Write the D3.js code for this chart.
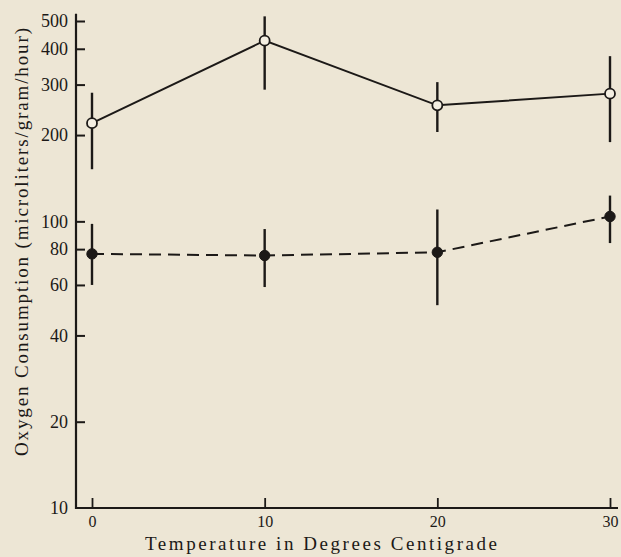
<!DOCTYPE html>
<html>
<head>
<meta charset="utf-8">
<script src="https://cdn.jsdelivr.net/npm/d3@7"></script>
<style>
  html, body { margin: 0; padding: 0; background: #ede6d5; }
  svg { display: block; }
  text { font-family: "Liberation Serif", "DejaVu Serif", serif; fill: #1c1917; }
</style>
</head>
<body>
<svg id="chart" width="621" height="557"></svg>
<script>
// ---- data ----
const temperatures = [0, 10, 20, 30];
const openMean  = [220, 427, 254, 279];
const openUpper = [281, 519, 306, 377];
const openLower = [152, 288, 205, 189];
const filledMean  = [77, 76, 78, 104];
const filledUpper = [98, 94, 110, 123];
const filledLower = [60, 59, 51, 84];
const yTickValues = [10, 20, 40, 60, 80, 100, 200, 300, 400, 500];
const yTickLabels = ["10", "20", "40", "60", "80", "100", "200", "300", "400", "500"];
const xTickValues = [0, 10, 20, 30];
const xTickLabels = ["0", "10", "20", "30"];
const xTitle = "Temperature in Degrees Centigrade";
const yTitle = "Oxygen Consumption (microliters/gram/hour)";

const ink = "#1c1917";
const svg = d3.select("#chart");

const x = d3.scaleLinear().domain([0, 30]).range([92, 610]);
const y = d3.scaleLog().domain([10, 500]).range([508, 21]);
const axisX0 = 76, axisY0 = 508;

// axes lines
svg.append("line").attr("x1", axisX0).attr("x2", axisX0)
  .attr("y1", axisY0 + 1).attr("y2", y(530))
  .attr("stroke", ink).attr("stroke-width", 2.2);
svg.append("line").attr("x1", axisX0 - 1).attr("x2", 618)
  .attr("y1", axisY0).attr("y2", axisY0)
  .attr("stroke", ink).attr("stroke-width", 2.2);

// y axis ticks (inward) via d3 axis
const yAxis = d3.axisRight(y).tickValues(yTickValues)
  .tickSize(9).tickSizeOuter(0).tickFormat(() => "");
const gy = svg.append("g").attr("transform", `translate(${axisX0},0)`).call(yAxis);
gy.select(".domain").remove();
gy.selectAll(".tick line").attr("stroke", ink).attr("stroke-width", 2);
gy.selectAll(".tick").filter(d => d === 10).select("line").remove();
gy.selectAll(".tick").append("text")
  .attr("x", -8).attr("dy", "0.32em")
  .attr("text-anchor", "end")
  .style("font-size", "18px")
  .text((d, i) => yTickLabels[yTickValues.indexOf(d)]);

// x axis ticks (upward)
const xAxis = d3.axisTop(x).tickValues(xTickValues)
  .tickSize(10).tickSizeOuter(0).tickFormat(() => "");
const gx = svg.append("g").attr("transform", `translate(0,${axisY0})`).call(xAxis);
gx.select(".domain").remove();
gx.selectAll(".tick line").attr("stroke", ink).attr("stroke-width", 1.8);
gx.selectAll(".tick").append("text")
  .attr("y", 14).attr("dy", "0.32em")
  .attr("text-anchor", "middle")
  .style("font-size", "16px")
  .text(d => xTickLabels[xTickValues.indexOf(d)]);

// titles
svg.append("text").attr("x", 321).attr("y", 550)
  .attr("text-anchor", "middle")
  .attr("textLength", 352).attr("lengthAdjust", "spacing")
  .style("font-size", "19px").text(xTitle);
svg.append("text")
  .attr("transform", `translate(28,242) rotate(-90)`)
  .attr("text-anchor", "middle")
  .attr("textLength", 428).attr("lengthAdjust", "spacing")
  .style("font-size", "19px").text(yTitle);

function drawSeries(mean, upper, lower, filled, dashed) {
  const pts = temperatures.map((t, i) => ({t, m: mean[i], u: upper[i], l: lower[i]}));
  const line = d3.line().x(d => x(d.t)).y(d => y(d.m));
  svg.append("path").datum(pts).attr("d", line)
    .attr("fill", "none").attr("stroke", ink).attr("stroke-width", 2)
    .attr("stroke-dasharray", dashed ? "12,7" : null);
  svg.append("g").selectAll("line").data(pts).join("line")
    .attr("x1", d => x(d.t)).attr("x2", d => x(d.t))
    .attr("y1", d => y(d.u)).attr("y2", d => y(d.l))
    .attr("stroke", ink).attr("stroke-width", 2.4);
  svg.append("g").selectAll("circle").data(pts).join("circle")
    .attr("cx", d => x(d.t)).attr("cy", d => y(d.m)).attr("r", filled ? 5.2 : 5)
    .attr("fill", filled ? ink : "#f4efe2")
    .attr("stroke", ink).attr("stroke-width", filled ? 1 : 1.8);
}
drawSeries(openMean, openUpper, openLower, false, false);
drawSeries(filledMean, filledUpper, filledLower, true, true);
</script>
</body>
</html>
